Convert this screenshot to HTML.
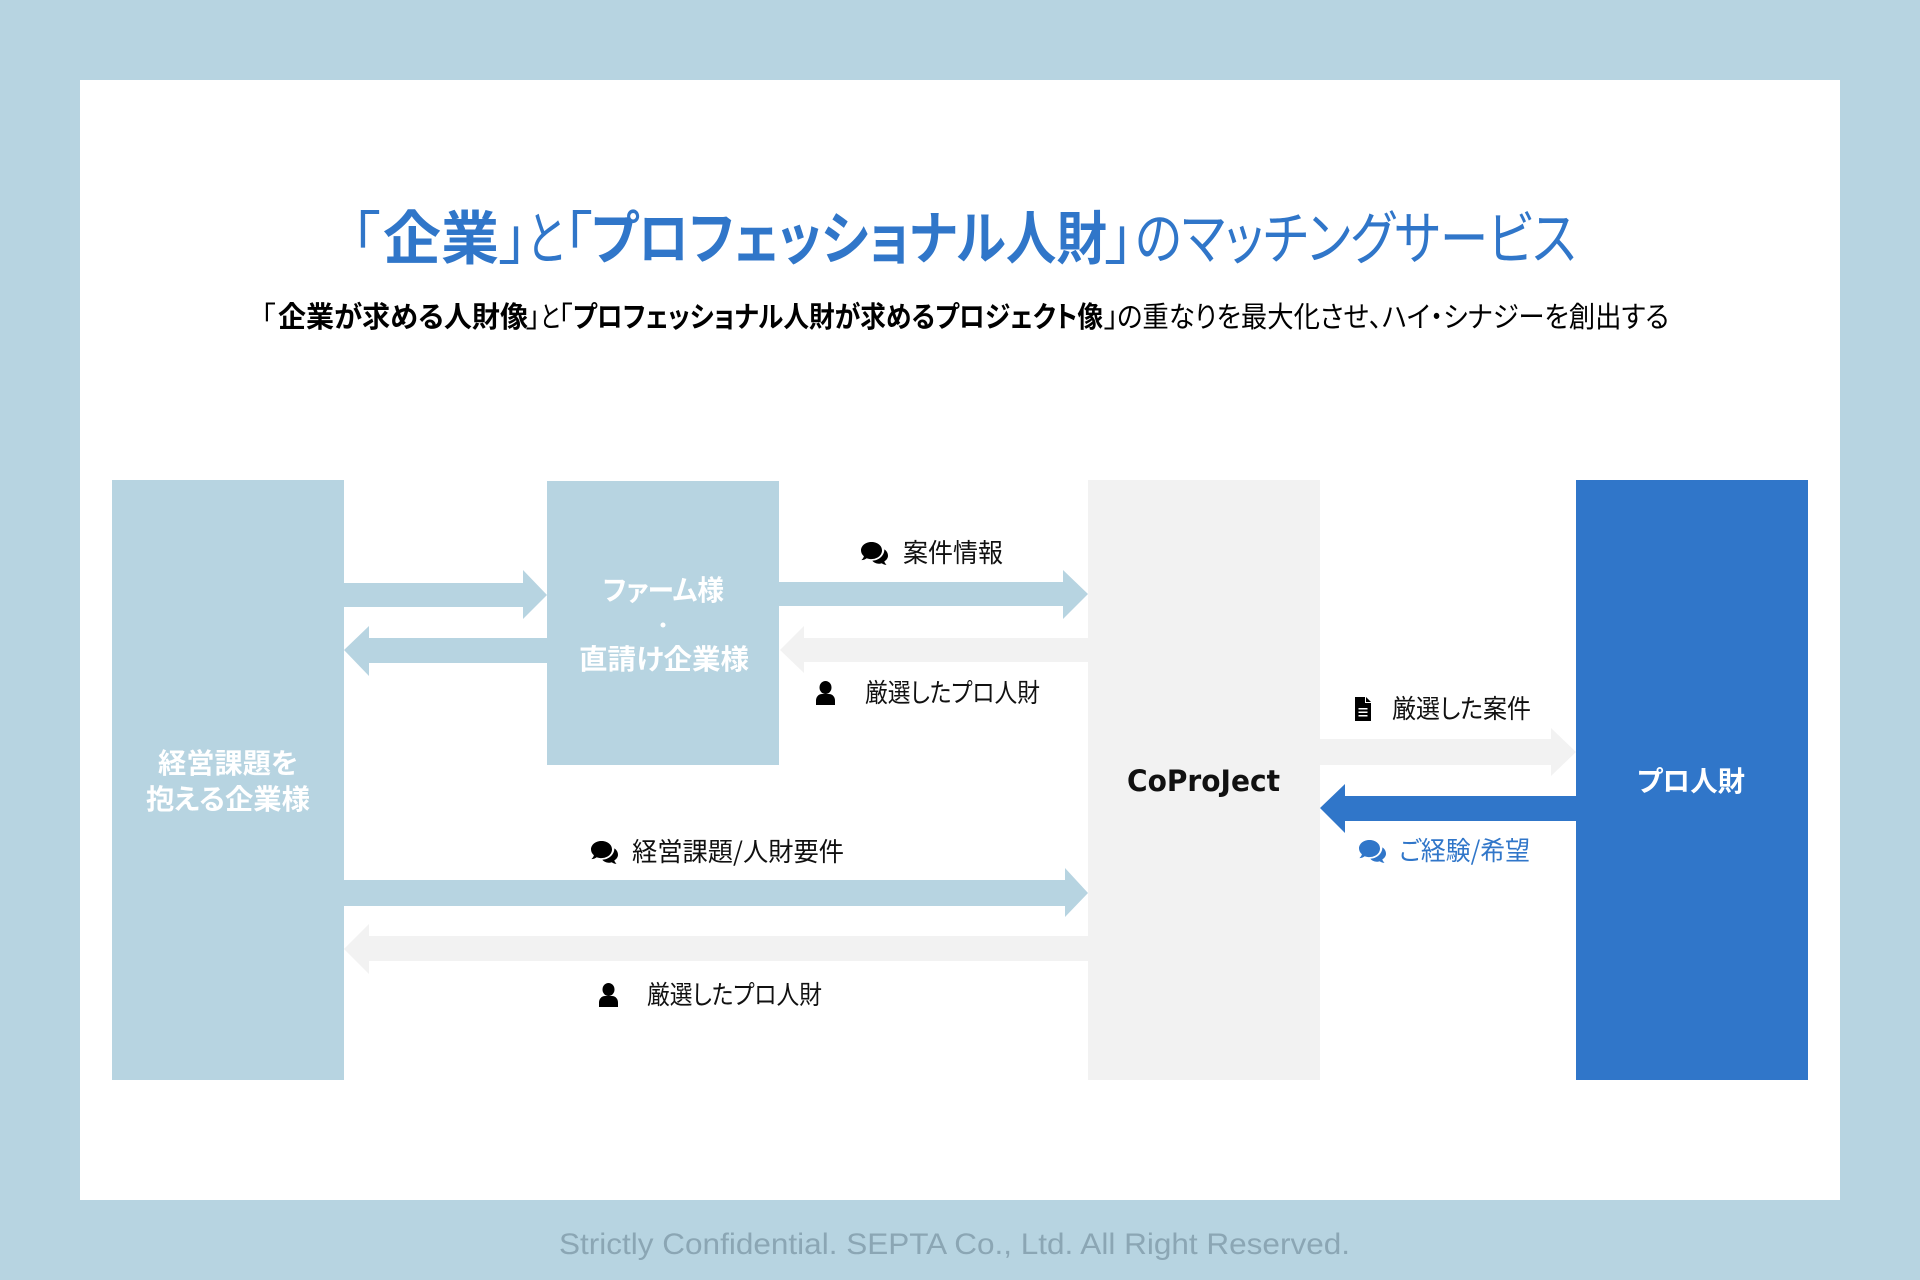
<!DOCTYPE html>
<html lang="ja"><head><meta charset="utf-8"><title>マッチングサービス</title>
<style>
html,body{margin:0;padding:0;width:1920px;height:1280px;overflow:hidden;background:#b7d4e1}
svg{display:block}
text{font-family:"Liberation Sans","Noto Sans CJK JP",sans-serif;font-feature-settings:"palt"}
.jp{font-family:"Noto Sans CJK JP",sans-serif}
.b{font-weight:700}
.t{font-size:58px;fill:#3076c9}
.s{font-size:29px;fill:#000}
.l{font-size:26px;fill:#111}
.w{font-size:28px;font-weight:700;fill:#fff}
</style></head><body>
<svg width="1920" height="1280" viewBox="0 0 1920 1280" xmlns="http://www.w3.org/2000/svg">
<defs>
<g id="chat"><path d="M10.5 0C4.7 0 0 3.7 0 8.4c0 2.3 1.1 4.3 2.9 5.900-.4 1.5-1.3 2.8-2.5 3.800 2 0 3.900-.8 5.300-1.900 1.500.6 3.100.9 4.800.9 5.800 0 10.500-3.800 10.500-8.700S16.300 0 10.500 0z"/><path d="M23.300 7.400c.3 3.700-2.800 10.600-12 11.400 1.500 1.900 4 2.900 6.500 2.900 1 0 2-.1 2.900-.5 1.300 1 2.700 1.500 4.800 1.600-1-1-1.800-2.100-2.200-3.400 2.300-1.400 3.700-3.500 3.700-5.700 0-2.700-1.500-5-3.700-6.300z"/></g>
<g id="person"><ellipse cx="9.500" cy="6.500" rx="6" ry="6.500"/><path d="M0 24v-4.500C0 16 2.500 13 6 13h7c3.500 0 6 3 6 6.500V24z"/></g>
<g id="doc"><path d="M0 0h10v6h6v18H0z"/><path d="M11 0l5 5h-5z"/><path d="M3.500 11h9v1.500h-9zM3.500 14.500h9v1.500h-9zM3.500 18h9v1.500h-9z" fill="#fff"/></g>
</defs>
<rect width="1920" height="1280" fill="#b7d4e1"/>
<rect x="80" y="80" width="1760" height="1120" fill="#fff"/>

<!-- title -->
<text class="t jp" x="351" y="259">「</text>
<text class="t jp b" x="383" y="259" textLength="116" lengthAdjust="spacingAndGlyphs">企業</text>
<text class="t jp" x="499" y="259">」</text>
<text class="t jp" x="527" y="259" textLength="37" lengthAdjust="spacingAndGlyphs">と</text>
<text class="t jp" x="563" y="259">「</text>
<text class="t jp b" x="591" y="259" textLength="516" lengthAdjust="spacingAndGlyphs">プロフェッショナル人財</text>
<text class="t jp" x="1105" y="259">」</text>
<text class="t jp" x="1135" y="259" textLength="441" lengthAdjust="spacingAndGlyphs">のマッチングサービス</text>

<!-- subtitle -->
<text class="s jp" x="261" y="327">「</text>
<text class="s jp b" x="278" y="327" textLength="250" lengthAdjust="spacingAndGlyphs">企業が求める人財像</text>
<text class="s jp" x="526" y="327">」</text>
<text class="s jp" x="540" y="327" textLength="20" lengthAdjust="spacingAndGlyphs">と</text>
<text class="s jp" x="558" y="327">「</text>
<text class="s jp b" x="573" y="327" textLength="530" lengthAdjust="spacingAndGlyphs">プロフェッショナル人財が求めるプロジェクト像</text>
<text class="s jp" x="1104" y="327">」</text>
<text class="s jp" x="1117" y="327" textLength="552" lengthAdjust="spacingAndGlyphs">の重なりを最大化させ、ハイ・シナジーを創出する</text>

<!-- boxes -->
<rect x="112" y="480" width="232" height="600" fill="#b7d4e1"/>
<rect x="547" y="481" width="232" height="284" fill="#b7d4e1"/>
<rect x="1088" y="480" width="232" height="600" fill="#f2f2f2"/>
<rect x="1576" y="480" width="232" height="600" fill="#3076c9"/>

<!-- arrows -->
<polygon fill="#b7d4e1" points="344,583 523,583 523,570 547,595 523,619 523,607 344,607"/>
<polygon fill="#b7d4e1" points="547,638 369,638 369,626 344,650 369,676 369,663 547,663"/>
<polygon fill="#b7d4e1" points="779,582 1063,582 1063,570 1088,594 1063,619 1063,606 779,606"/>
<polygon fill="#f2f2f2" points="1088,638 804,638 804,626 780,650 804,673 804,662 1088,662"/>
<polygon fill="#f2f2f2" points="1320,739 1551,739 1551,728 1576,752 1551,776 1551,765 1320,765"/>
<polygon fill="#3076c9" points="1576,796 1345,796 1345,784 1320,808 1345,833 1345,821 1576,821"/>
<polygon fill="#b7d4e1" points="344,880 1065,880 1065,868 1088,893 1065,917 1065,906 344,906"/>
<polygon fill="#f2f2f2" points="1088,936 369,936 369,924 344,949 369,974 369,961 1088,961"/>

<!-- box labels -->
<text class="w jp" x="603" y="600" textLength="121" lengthAdjust="spacingAndGlyphs">ファーム様</text>
<circle cx="663" cy="625" r="2.500" fill="#fff"/>
<text class="w jp" x="579" y="669" textLength="170" lengthAdjust="spacingAndGlyphs">直請け企業様</text>
<text class="w jp" x="158" y="773" textLength="140" lengthAdjust="spacingAndGlyphs">経営課題を</text>
<text class="w jp" x="146" y="809" textLength="164" lengthAdjust="spacingAndGlyphs">抱える企業様</text>
<text x="1127" y="791" font-size="29" font-weight="700" fill="#111" textLength="153" lengthAdjust="spacingAndGlyphs" style="font-family:'DejaVu Sans','Liberation Sans',sans-serif">CoProJect</text>
<text class="w jp" x="1637" y="791" textLength="108" lengthAdjust="spacingAndGlyphs">プロ人財</text>

<!-- connector labels -->
<use href="#chat" x="861" y="542"/>
<text class="l jp" x="903" y="562" textLength="100" lengthAdjust="spacingAndGlyphs">案件情報</text>
<use href="#person" x="816" y="681"/>
<text class="l jp" x="865" y="702" textLength="175" lengthAdjust="spacingAndGlyphs">厳選したプロ人財</text>
<use href="#doc" x="1355" y="697"/>
<text class="l jp" x="1392" y="718" textLength="139" lengthAdjust="spacingAndGlyphs">厳選した案件</text>
<use href="#chat" x="1359" y="840" fill="#3076c9"/>
<text class="l jp" x="1399" y="860" textLength="131" lengthAdjust="spacingAndGlyphs" style="fill:#3076c9">ご経験/希望</text>
<use href="#chat" x="591" y="841"/>
<text class="l jp" x="632" y="861" textLength="212" lengthAdjust="spacingAndGlyphs">経営課題/人財要件</text>
<use href="#person" x="599" y="983"/>
<text class="l jp" x="647" y="1004" textLength="175" lengthAdjust="spacingAndGlyphs">厳選したプロ人財</text>

<!-- footer -->
<text x="559" y="1254" font-size="30" fill="#8ba6b4" textLength="791" lengthAdjust="spacingAndGlyphs">Strictly Confidential. SEPTA Co., Ltd. All Right Reserved.</text>
</svg>
</body></html>
